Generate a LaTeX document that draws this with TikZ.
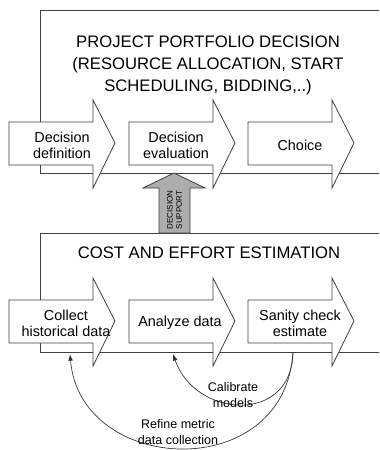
\documentclass[tikz,border=0pt]{standalone}
\usepackage{fontspec}
\setmainfont{Liberation Sans}
\usepackage{tikz}
\usetikzlibrary{arrows.meta}

\begin{document}
\begin{tikzpicture}[x=0.75pt,y=-0.75pt,
  frame/.style={draw=black!75, fill=white, line width=0.6pt},
  stage/.style={draw=black!75, fill=white, line width=0.6pt},
  support/.style={draw=black!75, fill=black!32, line width=0.6pt},
  loop/.style={draw=black!80, line width=0.5pt, -{Latex[length=5pt,width=3.5pt]}},
  title/.style={align=center, font=\fontsize{12.5}{16.5}\selectfont},
  txt/.style={align=center, font=\fontsize{10.8}{12}\selectfont},
  note/.style={align=center, font=\fontsize{9.4}{12.5}\selectfont}]
\clip (0,0) rectangle (379,450);
\fill[white] (0,0) rectangle (379,450);

% decision level
\draw[frame] (390,10) -- (40,10) -- (40,173) -- (390,173);
\node[title] (portfolio) at (208,65) {PROJECT PORTFOLIO DECISION\\(RESOURCE ALLOCATION, START\\SCHEDULING, BIDDING,..)};
\draw[stage] (9,122) -- ++(84,0) -- ++(0,-22) -- ++(22,43) -- ++(-22,45) -- ++(0,-23) -- ++(-84,0) -- cycle;
\draw[stage] (129,122) -- ++(84,0) -- ++(0,-22) -- ++(22,43) -- ++(-22,45) -- ++(0,-23) -- ++(-84,0) -- cycle;
\draw[stage] (248,122) -- ++(84,0) -- ++(0,-22) -- ++(22,43) -- ++(-22,45) -- ++(0,-23) -- ++(-84,0) -- cycle;
\node[txt] (definition) at (62,145) {Decision\\definition};
\node[txt] (evaluation) at (176,145) {Decision\\evaluation};
\node[txt] (choice) at (300,145) {Choice};

% estimation level
\draw[frame] (390,233) -- (40,233) -- (40,352) -- (390,352);
\node[title] (estimation) at (209,253) {COST AND EFFORT ESTIMATION};
\draw[stage] (9,300) -- ++(84,0) -- ++(0,-22) -- ++(22,43) -- ++(-22,45) -- ++(0,-23) -- ++(-84,0) -- cycle;
\draw[stage] (129,300) -- ++(84,0) -- ++(0,-22) -- ++(22,43) -- ++(-22,45) -- ++(0,-23) -- ++(-84,0) -- cycle;
\draw[stage] (248,300) -- ++(84,0) -- ++(0,-22) -- ++(22,43) -- ++(-22,45) -- ++(0,-23) -- ++(-84,0) -- cycle;
\node[txt] (collect) at (66,323) {Collect\\historical data};
\node[txt] (analyze) at (180,323) {Analyze data};
\node[txt] (sanity) at (300,323) {Sanity check\\estimate};

% support between the levels
\draw[support] (159,233) -- (159,188) -- (143,188) -- (174,173) -- (205,188) -- (190,188) -- (190,233) -- cycle;
\node[rotate=90, align=center, font=\fontsize{6}{7}\selectfont] (dss) at (174.5,210) {DECISION\\SUPPORT};

% feedback
\coordinate (checkout) at (293,352);
\coordinate (analyzein) at (173,354);
\coordinate (collectin) at (70,354);
\draw[loop] (checkout) .. controls (292,425) and (195,418) .. (analyzein);
\draw[loop] (checkout) .. controls (285,485) and (80,475) .. (collectin);
\node[note] (calibrate) at (233,395) {Calibrate\\models};
\node[note] (refine) at (178,432) {Refine metric\\data collection};
\end{tikzpicture}
\end{document}
